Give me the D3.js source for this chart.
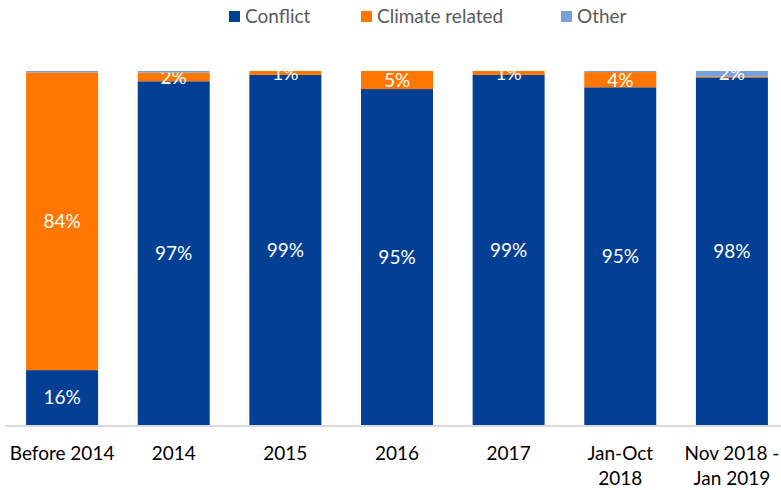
<!DOCTYPE html>
<html>
<head>
<meta charset="utf-8">
<script src="https://cdn.jsdelivr.net/npm/d3@7"></script>
<style>
  body { margin: 0; background: #fff; }
  text { font-family: Lato, "Open Sans", sans-serif; }
</style>
</head>
<body>
<div id="holder"></div>
<script>
var periods = ["Before 2014", "2014", "2015", "2016", "2017", "Jan-Oct 2018", "Nov 2018 - Jan 2019"];
var periodLines = [["Before 2014"], ["2014"], ["2015"], ["2016"], ["2017"], ["Jan-Oct", "2018"], ["Nov 2018 -", "Jan 2019"]];
var seriesNames = ["Conflict", "Climate related", "Other"];
var conflict = [15.5, 97.1, 98.9, 94.9, 98.9, 95.4, 98.2];
var climate = [84.1, 2.45, 1.1, 5.1, 1.1, 4.3, 0.3];
var other = [0.4, 0.45, 0, 0, 0, 0.3, 1.5];
var colors = ["#033f93", "#ff7700", "#77a1da"];

var width = 781, height = 490;
var svg = d3.select('#holder').append('svg').attr('width', width).attr('height', height);

var x = d3.scaleBand().domain(periods).range([6, 788]).paddingInner(0.355).paddingOuter(0.18);
var y = d3.scaleLinear().domain([0, 100]).range([425, 71]);

var rows = periods.map(function(p, i) {
  return { period: p, Conflict: conflict[i], "Climate related": climate[i], Other: other[i] };
});
var stacked = d3.stack().keys(seriesNames)(rows);

var groups = svg.selectAll('g.series').data(stacked).enter().append('g')
  .attr('fill', function(d, i) { return colors[i]; });

groups.selectAll('rect').data(function(d) { return d; }).enter().append('rect')
  .attr('x', function(d) { return x(d.data.period); })
  .attr('y', function(d) { return y(d[1]); })
  .attr('width', x.bandwidth())
  .attr('height', function(d) { return y(d[0]) - y(d[1]); });

// data labels, only where the rounded share is at least 1%
groups.selectAll('text').data(function(d) { return d; }).enter()
  .filter(function(d) { return Math.round(d[1] - d[0]) >= 1; })
  .append('text')
  .attr('x', function(d) { return x(d.data.period) + x.bandwidth() / 2; })
  .attr('y', function(d) { return (y(d[0]) + y(d[1])) / 2; })
  .attr('dy', '0.36em')
  .attr('text-anchor', 'middle')
  .attr('fill', '#fff')
  .style('font-size', '19px')
  .text(function(d) { return Math.round(d[1] - d[0]) + '%'; });

// axis line
svg.append('line').attr('x1', 5).attr('x2', 781).attr('y1', 426).attr('y2', 426)
  .attr('stroke', '#d9d9d9').attr('stroke-width', 2);

// category labels
periods.forEach(function(p, i) {
  var t = svg.append('text')
    .attr('x', x(p) + x.bandwidth() / 2)
    .attr('y', 460)
    .attr('text-anchor', 'middle')
    .attr('fill', '#000')
    .style('font-size', '19px');
  periodLines[i].forEach(function(line, j) {
    t.append('tspan').attr('x', x(p) + x.bandwidth() / 2).attr('dy', j === 0 ? 0 : 25).text(line);
  });
});

// legend
var legendX = [229, 361, 561];
seriesNames.forEach(function(s, i) {
  svg.append('rect').attr('x', legendX[i]).attr('y', 11).attr('width', 11).attr('height', 11).attr('fill', colors[i]);
  svg.append('text').attr('x', legendX[i] + 16).attr('y', 16).attr('dy', '0.36em')
    .attr('fill', '#595959').style('font-size', '19px').text(s);
});
</script>
</body>
</html>
